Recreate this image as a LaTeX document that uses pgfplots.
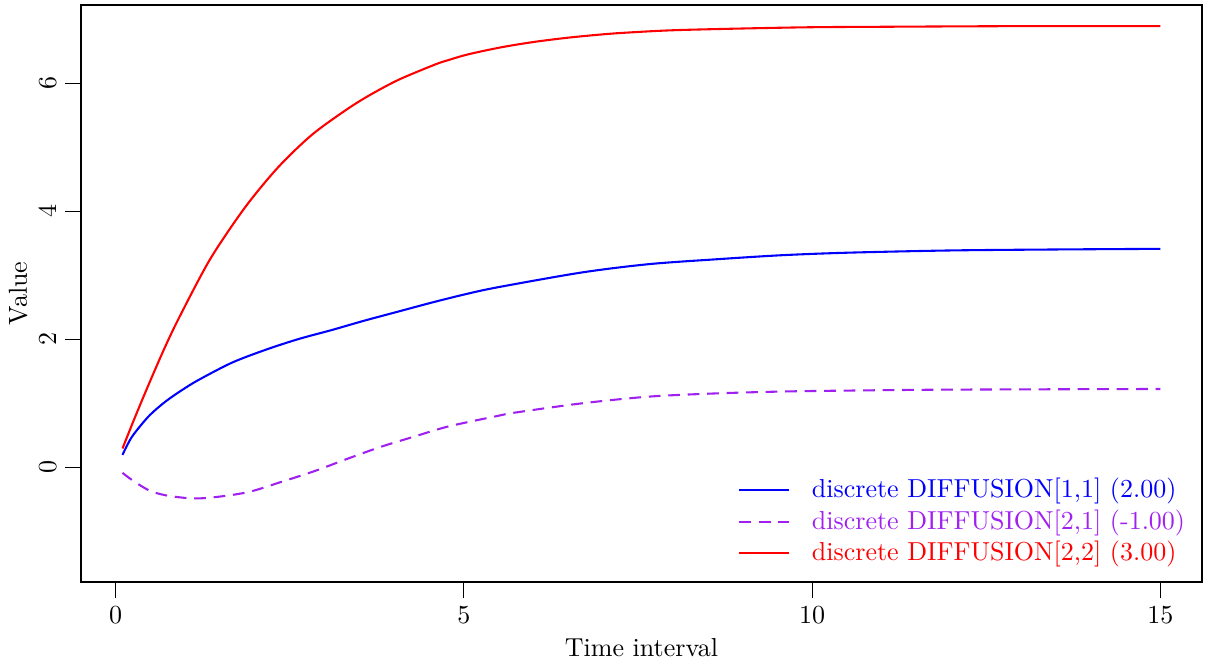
\documentclass[border=0pt]{standalone}
\usepackage{pgfplots}
\pgfplotsset{compat=1.18}
\definecolor{rpurple}{RGB}{160,32,240}

\begin{document}
\begin{tikzpicture}
\begin{axis}[
  scale only axis, width=431.1pt, height=221.9pt,
  xmin=-0.496, xmax=15.596, ymin=-1.797, ymax=7.219,
  xtick={0,5,10,15}, ytick={0,2,4,6},
  tick align=outside, xtick pos=left, ytick pos=left,
  major tick length=6pt,
  tick style={black, line width=0.4pt},
  axis line style={line width=0.8pt},
  yticklabel style={rotate=90, anchor=south},
  xlabel={Time interval}, ylabel={Value},
  xlabel style={at={(axis description cs:0.5,0)}, anchor=center, yshift=-25.4pt},
  ylabel style={at={(axis description cs:0,0.5)}, anchor=center, yshift=24.2pt},
  legend style={draw=none, fill=none, at={(0.579,0.011)}, anchor=south west,
    row sep=-0.9pt, column sep=6.3pt},
  legend cell align=left,
  legend image code/.code={\draw[#1] (0pt,0pt) -- (19.2pt,0pt);},
  every axis plot/.append style={line width=0.8pt, smooth}
]
\coordinate (bl) at (rel axis cs:0,0);

\addplot[color=blue] coordinates {
  (0.1,0.19) (0.234,0.47) (0.473,0.79) (0.713,1.02) (0.95,1.20) (1.19,1.36)
  (1.669,1.63) (2.148,1.83) (2.626,2.00) (3.10,2.14) (3.58,2.29) (4.06,2.43)
  (4.54,2.57) (5.02,2.70) (5.49,2.81) (6.69,3.04) (7.65,3.17)
  (8.60,3.245) (9.56,3.31) (10.52,3.35) (12,3.385) (13.5,3.40) (15,3.41)
};
\addlegendentry{\textcolor{blue}{discrete DIFFUSION[1,1] (2.00)}}

\addplot[color=rpurple, dash pattern=on 4.5pt off 3pt] coordinates {
  (0.1,-0.09) (0.234,-0.20) (0.473,-0.36) (0.713,-0.44) (1.095,-0.49)
  (1.43,-0.47) (1.91,-0.39) (2.386,-0.23) (2.865,-0.06) (3.343,0.135)
  (3.82,0.32) (4.30,0.48) (4.78,0.635) (5.49,0.80) (5.73,0.85) (6.69,0.995)
  (7.65,1.10) (8.60,1.15) (9.56,1.18) (10.52,1.195) (12,1.21) (15,1.22)
};
\addlegendentry{\textcolor{rpurple}{discrete DIFFUSION[2,1] (-1.00)}}

\addplot[color=red] coordinates {
  (0.1,0.29) (0.25,0.70) (0.46,1.25) (0.7,1.85) (0.92,2.35) (1.359,3.25)
  (1.861,4.06) (2.339,4.69) (2.817,5.19) (3.295,5.57) (3.63,5.80) (4.06,6.05)
  (4.587,6.29) (4.78,6.36) (5.065,6.45) (5.54,6.56) (6.02,6.645) (6.50,6.71)
  (6.977,6.76) (7.36,6.79) (8.12,6.83) (9.8,6.87) (11,6.88) (13,6.89) (15,6.89)
};
\addlegendentry{\textcolor{red}{discrete DIFFUSION[2,2] (3.00)}}
\end{axis}
\pgfresetboundingbox
\path (bl) ++(-31.15pt,-31.54pt) rectangle ++(465pt,255.4pt);
\end{tikzpicture}
\end{document}
